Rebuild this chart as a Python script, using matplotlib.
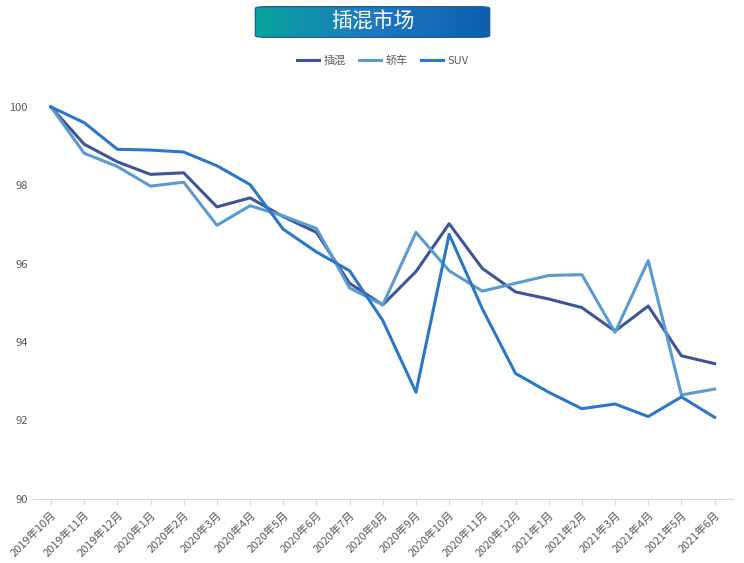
import numpy as np
import matplotlib
matplotlib.use("Agg")
import matplotlib.pyplot as plt
from matplotlib.patches import FancyBboxPatch

plt.rcParams['font.family'] = ['Noto Sans CJK SC', 'DejaVu Sans']

months = ["2019年10月", "2019年11月", "2019年12月", "2020年1月", "2020年2月", "2020年3月",
          "2020年4月", "2020年5月", "2020年6月", "2020年7月", "2020年8月", "2020年9月",
          "2020年10月", "2020年11月", "2020年12月", "2021年1月", "2021年2月", "2021年3月",
          "2021年4月", "2021年5月", "2021年6月"]
phev = [100, 99.05, 98.6, 98.28, 98.32, 97.45, 97.68, 97.2, 96.8, 95.5, 94.95, 95.8,
        97.02, 95.88, 95.28, 95.1, 94.88, 94.28, 94.92, 93.65, 93.45]
sedan = [100, 98.82, 98.48, 97.98, 98.08, 96.98, 97.48, 97.22, 96.9, 95.38, 94.95, 96.8,
         95.82, 95.3, 95.5, 95.7, 95.72, 94.25, 96.08, 92.65, 92.8]
suv = [100, 99.6, 98.92, 98.9, 98.85, 98.5, 98.02, 96.88, 96.3, 95.82, 94.55, 92.72,
       96.75, 94.85, 93.2, 92.72, 92.3, 92.42, 92.1, 92.6, 92.08]

fig = plt.figure(figsize=(7.44, 5.63), dpi=100)
ax = fig.add_axes([0.044, 0.114, 0.941, 0.696])
x = np.arange(len(months))
ax.plot(x, phev, color="#3f5597", lw=2.2, label="插混", clip_on=False)
ax.plot(x, sedan, color="#5b9bd0", lw=2.2, label="轿车", clip_on=False)
ax.plot(x, suv, color="#2a78c6", lw=2.2, label="SUV", clip_on=False)

ax.set_xlim(-0.55, len(months) - 0.45)
ax.set_ylim(90, 100)
ax.set_yticks([90, 92, 94, 96, 98, 100])
ax.set_xticks(x)
ax.set_xticklabels(months, rotation=45, ha="right", rotation_mode="anchor", fontsize=8, color="#595959")
ax.tick_params(axis="y", length=0, labelsize=8, labelcolor="#595959")
ax.tick_params(axis="x", length=4, color="#d9d9d9")
for s in ["top", "right", "left"]:
    ax.spines[s].set_visible(False)
ax.spines["bottom"].set_color("#d9d9d9")
ax.legend(loc="lower center", bbox_to_anchor=(0.5, 1.08), ncol=3, frameon=False,
          fontsize=8, labelcolor="#595959", handlelength=2, columnspacing=1.2, handletextpad=0.4)

# title banner with gradient
tax = fig.add_axes([253 / 744, 1 - 39 / 563, 239 / 744, 34 / 563])
tax.set_axis_off()
grad = np.linspace(0, 1, 256).reshape(1, -1)
cmap = matplotlib.colors.LinearSegmentedColormap.from_list("g", ["#07a69a", "#1f78c0", "#0b5fae"])
im = tax.imshow(grad, aspect="auto", cmap=cmap, extent=[0, 1, 0, 1])
box = FancyBboxPatch((0.01, 0.05), 0.98, 0.9, boxstyle="round,pad=0,rounding_size=0.05",
                     transform=tax.transAxes, fc="none", ec="#1f5f9a", lw=1)
tax.add_patch(box)
im.set_clip_path(box)
tax.set_xlim(0, 1); tax.set_ylim(0, 1)
tax.text(0.5, 0.5, "插混市场", color="white", fontsize=15, ha="center", va="center")

fig.savefig("out.png", dpi=100)
